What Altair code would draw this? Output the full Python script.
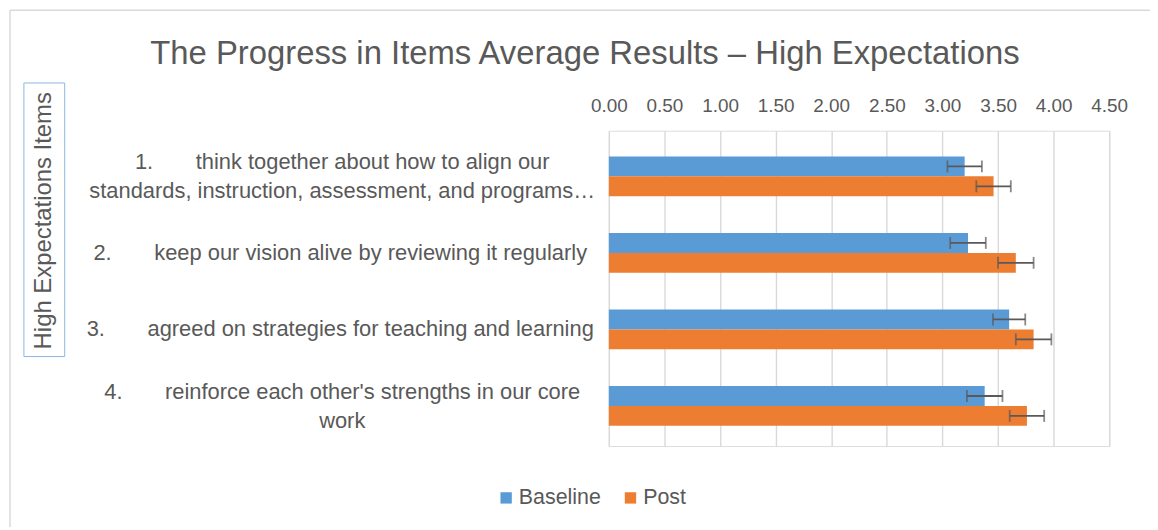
import altair as alt
import pandas as pd

NB = "\u00a0" * 7
items = [
    "1." + NB + "think together about how to align our|standards, instruction, assessment, and programs…",
    "2." + NB + "keep our vision alive by reviewing it regularly",
    "3." + NB + "agreed on strategies for teaching and learning",
    "4." + NB + "reinforce each other's strengths in our core|work",
]
series = ["Baseline", "Post"]
baseline = [3.20, 3.23, 3.60, 3.38]
post = [3.46, 3.66, 3.82, 3.76]
baseline_err = [0.155, 0.16, 0.145, 0.16]
post_err = [0.155, 0.16, 0.16, 0.155]
ticks = [0, 0.5, 1, 1.5, 2, 2.5, 3, 3.5, 4, 4.5]
colors = ["#5B9BD5", "#ED7D31"]
title_text = "The Progress in Items Average Results – High Expectations"
axis_title = "High Expectations Items"

rows = []
for i, it in enumerate(items):
    for s, vals, errs in ((series[0], baseline, baseline_err), (series[1], post, post_err)):
        rows.append({"item": it, "series": s, "value": vals[i],
                     "lo": vals[i] - errs[i], "hi": vals[i] + errs[i]})
df = pd.DataFrame(rows)
lab = pd.DataFrame({"item": items, "lines": [len(t.split("|")) for t in items]})

FONT = "Liberation Sans"
GREY = "#595959"

xscale = alt.Scale(domain=[0, 4.5], nice=False, zero=True)
yscale = alt.Scale(paddingInner=0.48, paddingOuter=0.3, align=0.56)

base = alt.Chart(df)

bars = base.mark_bar().encode(
    x=alt.X("value:Q", scale=xscale,
            axis=alt.Axis(orient="top", values=ticks, format=".2f", title=None,
                          grid=True, gridColor="#D9D9D9", gridWidth=1.4,
                          domain=False, ticks=False, labelFontSize=19, labelFlush=False,
                          labelPadding=15, labelColor=GREY, labelFont=FONT)),
    y=alt.Y("item:N", sort=items, scale=yscale,
            axis=alt.Axis(title=axis_title, domain=False, ticks=False, labels=False,
                          titleAngle=270, titleX=-568, titleY=90, titleAlign="center",
                          titleBaseline="middle", titleFontSize=24, titleFontWeight="normal",
                          titleColor=GREY, titleFont=FONT)),
    yOffset=alt.YOffset("series:N", sort=series),
    color=alt.Color("series:N", sort=series,
                    scale=alt.Scale(domain=series, range=colors),
                    legend=alt.Legend(title=None, orient="none", direction="horizontal",
                                      legendX=-114, legendY=358, symbolType="square",
                                      symbolSize=130, symbolStrokeWidth=0,
                                      labelFontSize=21.5, labelColor=GREY, labelFont=FONT,
                                      columnPadding=19, labelOffset=2)),
)

err = base.mark_rule(color="#595959", strokeWidth=1.8).encode(
    x=alt.X("lo:Q", scale=xscale),
    x2="hi:Q",
    y=alt.Y("item:N", sort=items, scale=yscale),
    yOffset=alt.YOffset("series:N", sort=series),
)
cap_lo = base.mark_tick(color="#595959", thickness=1.8, size=12).encode(
    x=alt.X("lo:Q", scale=xscale),
    y=alt.Y("item:N", sort=items, scale=yscale),
    yOffset=alt.YOffset("series:N", sort=series),
)
cap_hi = base.mark_tick(color="#595959", thickness=1.8, size=12).encode(
    x=alt.X("hi:Q", scale=xscale),
    y=alt.Y("item:N", sort=items, scale=yscale),
    yOffset=alt.YOffset("series:N", sort=series),
)

lab_base = alt.Chart(lab)
labels1 = lab_base.transform_filter("datum.lines == 1").mark_text(
    align="center", baseline="middle", fontSize=22, font=FONT, color=GREY
).encode(y=alt.Y("item:N", sort=items, scale=yscale), x=alt.value(-270), text="item:N")
labels2 = lab_base.transform_filter("datum.lines == 2").mark_text(
    align="center", baseline="middle", fontSize=22, font=FONT, color=GREY,
    lineBreak="|", lineHeight=29, dy=-14
).encode(y=alt.Y("item:N", sort=items, scale=yscale), x=alt.value(-268), text="item:N")

deco = alt.Chart(pd.DataFrame({"t": [title_text]}))
title = deco.mark_text(align="center", baseline="alphabetic", fontSize=33, font=FONT,
                       color=GREY).encode(x=alt.value(-24), y=alt.value(-67), text="t:N")
title_box = deco.mark_rect(fill=None, stroke="#8EB4E3", strokeWidth=1).encode(
    x=alt.value(-588), x2=alt.value(-547), y=alt.value(-48), y2=alt.value(227)
)
frame_left = deco.mark_rule(color="#D9D9D9", strokeWidth=1.5).encode(
    x=alt.value(-602), y=alt.value(-121), y2=alt.value(520)
)
frame_top = deco.mark_rule(color="#D9D9D9", strokeWidth=1.5).encode(
    x=alt.value(-602), x2=alt.value(700), y=alt.value(-121)
)

chart = alt.layer(frame_left, frame_top, title_box, title, bars, err, cap_lo, cap_hi,
                  labels1, labels2).properties(
    width=503, height=317,
    autosize=alt.AutoSizeParams(type="none"),
    padding={"left": 604, "top": 122, "right": 41, "bottom": 80},
).configure_view(stroke=None).configure(background="white")

chart.save("out.html", embed_options={"renderer": "svg", "actions": False})
